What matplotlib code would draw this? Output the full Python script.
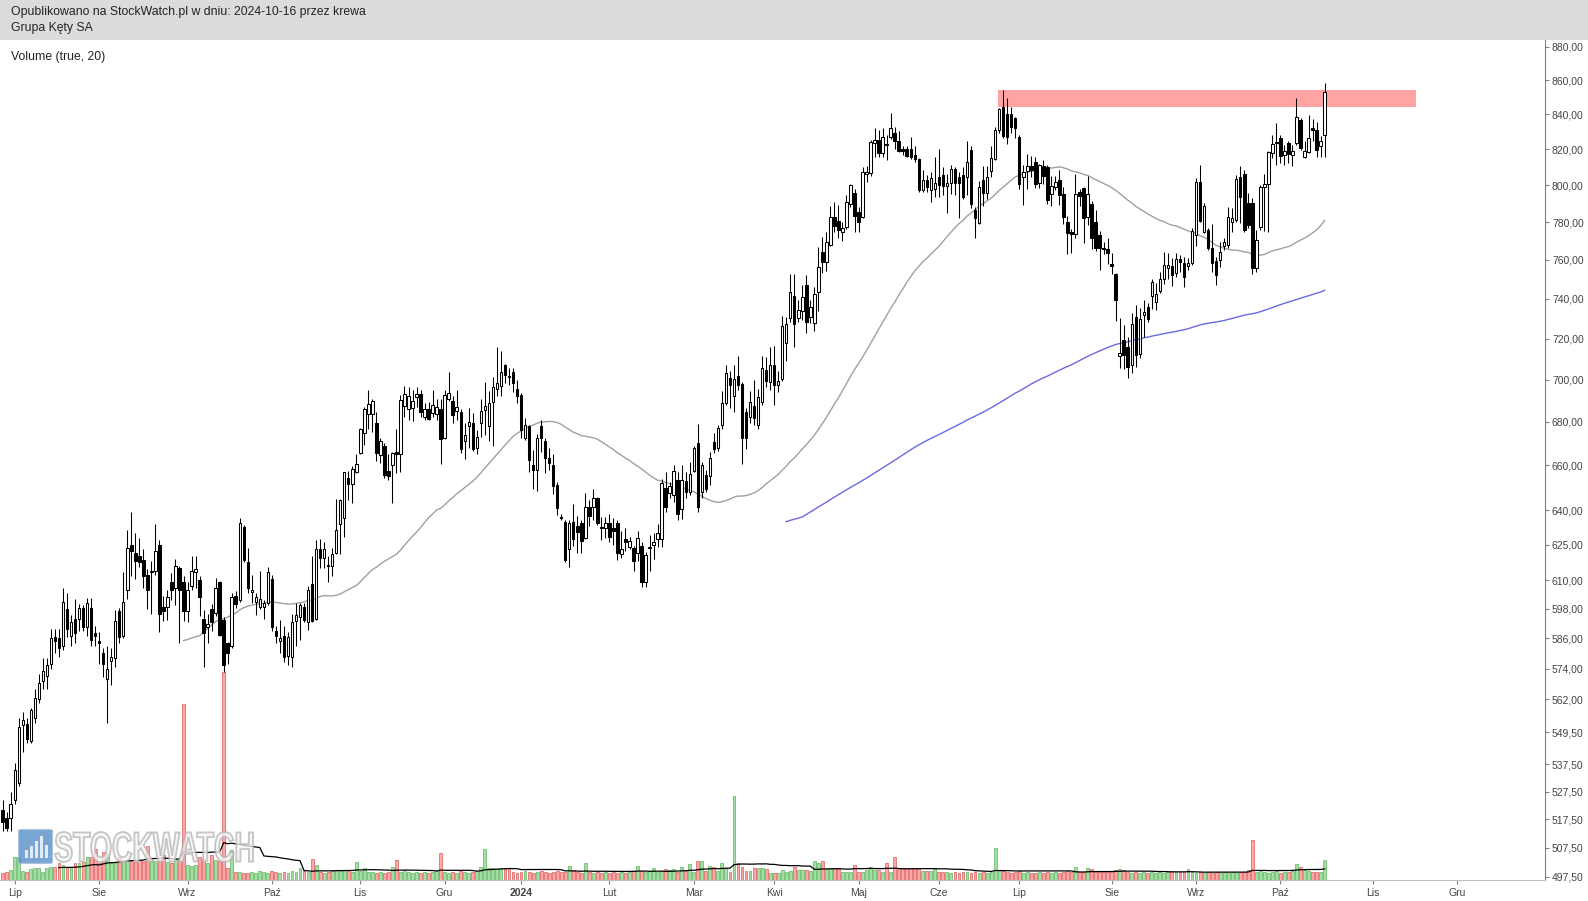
import numpy as np
import pandas as pd
import matplotlib
matplotlib.use("Agg")
import matplotlib.pyplot as plt
from matplotlib.patches import Rectangle, FancyBboxPatch, PathPatch
from matplotlib.textpath import TextPath
from matplotlib.font_manager import FontProperties
from matplotlib.transforms import Affine2D
import matplotlib.ticker as mticker

plt.rcParams['font.family'] = ['Liberation Sans', 'DejaVu Sans']

# daily candles, Grupa Kety SA, end of June 2023 -> 2024-10-16
opens = [
    521, 518, 518, 524.5, 530.5, 552, 552.5, 546, 555, 562,
    569, 571, 576, 586.5, 586, 583, 598, 587, 594, 594,
    598.5, 590.5, 598.5, 588, 585, 580, 570, 577, 578, 597,
    587, 606, 625, 621.5, 620, 618.5, 612, 613.5, 614, 625,
    599, 599, 609, 606.5, 615, 609, 597, 607.5, 613.5, 610,
    594, 590.5, 598, 596.5, 609, 593.5, 584, 583, 603.5, 601.5,
    632.5, 617.5, 605, 601, 599, 599, 600.5, 610.5, 589, 585,
    587, 579, 578.5, 593, 594.5, 599, 592.5, 608.5, 594, 623,
    619.5, 616.5, 616, 621.5, 634, 636.5, 654.5, 651.5, 657, 665.5,
    675, 683.5, 683.5, 679.5, 664.5, 669, 657.5, 660, 666, 665,
    687.5, 686, 686.5, 691.5, 693, 682.5, 686, 684, 683.5, 686,
    672.5, 691, 690, 685, 684.5, 671, 678, 679.5, 668, 679.5,
    685.5, 678, 689.5, 695.5, 697, 707, 702, 703.5, 695.5, 692.5,
    672.5, 678, 660, 658, 678, 671, 663.5, 660, 651, 637,
    635, 623, 635, 633, 634.5, 628, 641.5, 641.5, 645.5, 632.5,
    632, 634.5, 632, 634.5, 621, 627.5, 624, 623.5, 621.5, 624.5,
    609, 623.5, 625, 627.5, 627.5, 650, 647.5, 646.5, 653.5, 640.5,
    653, 648, 657.5, 670, 648, 655.5, 655, 670.5, 668, 678.5,
    689, 701, 692, 702, 698, 684.5, 682.5, 687.5, 678.5, 689.5,
    704.5, 699, 707, 697.5, 700.5, 718, 730.5, 741.5, 730.5, 734,
    747, 731, 728, 743.5, 764, 759, 768, 783, 780.5, 775,
    777.5, 790, 796, 785.5, 783, 806.5, 807, 823.5, 825.5, 818,
    823, 827, 829.5, 824.5, 820, 820.5, 820.5, 817, 814.5, 797.5,
    803, 797.5, 798, 804.5, 805.5, 799.5, 801.5, 809, 804.5, 805.5,
    804.5, 819.5, 786.5, 779.5, 803, 796, 808, 814.5, 831, 844,
    840, 840, 838, 827, 804.5, 808, 810.5, 813, 801.5, 810.5,
    810, 795, 799, 803, 795.5, 780, 774.5, 773.5, 796.5, 798.5,
    783, 790, 780, 773, 766.5, 766, 758, 752.5, 711.5, 719.5,
    716, 707, 731, 712.5, 732, 736, 741.5, 738.5, 744, 750,
    756, 757, 753, 760.5, 758.5, 757, 758.5, 773, 802, 775,
    776, 766.5, 759.5, 760, 767.5, 768, 780, 781, 804.5, 806,
    790.5, 790.5, 756, 777.5, 799, 801, 818, 823.5, 826.5, 817,
    823.5, 817, 823.5, 837, 815.5, 818.5, 832, 831, 822, 828,
]
highs = [
    524.5, 520, 527.5, 538, 555, 557, 555, 558.5, 566, 572,
    578, 578, 590, 590, 590, 606.5, 604.5, 595.5, 602, 600,
    599.5, 602.5, 602.5, 591, 588.5, 582, 583, 582, 597.5, 598.5,
    613.5, 631.5, 639, 630, 628, 623, 614.5, 618, 634, 627,
    603.5, 606, 613, 619, 616, 611.5, 609, 620, 620, 611.5,
    597.5, 596, 600, 611, 609.5, 594.5, 584.5, 604.5, 605.5, 636.5,
    633.5, 623.5, 612, 604.5, 614, 601.5, 615.5, 612, 591, 593.5,
    591, 588.5, 596, 600.5, 600.5, 600.5, 607.5, 620, 627, 627.5,
    626, 620, 623.5, 645, 645, 657, 657.5, 659.5, 665, 677,
    687, 695, 691, 684.5, 672.5, 670, 665, 666, 676.5, 692.5,
    697, 696.5, 695, 696.5, 695, 689, 689.5, 695, 691, 691,
    695, 703.5, 692, 695, 686, 679.5, 686.5, 684, 676, 691,
    699, 694.5, 701.5, 716, 714, 707.5, 705.5, 705.5, 700, 693.5,
    682, 678.5, 667, 674.5, 681, 672.5, 668, 665, 652.5, 638.5,
    635.5, 635.5, 642.5, 637.5, 635.5, 647.5, 644.5, 649.5, 646, 637,
    637, 638.5, 636.5, 635.5, 631, 632, 628.5, 624.5, 631, 626,
    622, 629, 630, 634, 654, 657, 652.5, 660, 657, 660,
    657, 661.5, 669, 679, 661.5, 658, 666, 675, 678.5, 694.5,
    707, 704, 707, 711.5, 699, 686.5, 694.5, 700, 695.5, 711.5,
    711, 716, 716.5, 704, 731.5, 731, 752.5, 752.5, 739.5, 747,
    752, 739.5, 746, 767, 772, 774.5, 788.5, 791, 789, 780,
    794.5, 801, 798, 788, 810, 810.5, 825.5, 832, 831, 832,
    828, 840.5, 832.5, 830.5, 822, 822, 827, 822, 815, 808.5,
    805.5, 807.5, 815.5, 820, 810, 806.5, 811.5, 810, 807.5, 810,
    824.5, 822, 788, 802.5, 810.5, 810.5, 822, 832.5, 843.5, 854,
    849.5, 844, 838.5, 828, 811.5, 817.5, 816.5, 815.5, 812, 814,
    811, 805, 805, 808.5, 799, 783.5, 776.5, 806.5, 798, 799,
    805, 791.5, 786.5, 775.5, 769.5, 771.5, 763.5, 753.5, 730.5, 727,
    721, 733, 737, 735.5, 739.5, 738, 750, 748, 754, 764,
    763.5, 761, 763.5, 762.5, 761.5, 761, 777, 804, 811, 790.5,
    777, 779, 761.5, 769.5, 771.5, 788, 787.5, 805.5, 810.5, 808.5,
    796, 793, 776, 800, 806.5, 819, 828, 835, 828, 822.5,
    825, 822.5, 849.5, 838, 825, 839.5, 837.5, 835.5, 827.5, 858.5,
]
lows = [
    513.5, 513.5, 513.5, 523, 529.5, 542, 545.5, 545.5, 553, 560.5,
    566, 566, 574, 580, 578.5, 581.5, 586.5, 583, 584, 589,
    589, 587, 583, 583, 576, 570.5, 553, 567.5, 574.5, 584,
    586, 602, 611.5, 610.5, 615.5, 606.5, 598, 596, 612, 588.5,
    593, 593.5, 601.5, 599.5, 584, 593, 592.5, 606, 606.5, 595,
    574.5, 584, 589, 595, 587, 572.5, 576, 582, 598.5, 601,
    617.5, 604.5, 600.5, 595.5, 598, 594, 599.5, 589, 584, 580,
    576.5, 575.5, 574.5, 583, 585.5, 592.5, 589.5, 592.5, 593.5, 615,
    615, 609, 611.5, 621, 621, 628.5, 644.5, 643, 656.5, 665,
    669.5, 676.5, 675.5, 662, 661, 654.5, 653.5, 643, 656.5, 657,
    682.5, 681, 680.5, 687, 682.5, 681, 681, 682.5, 681, 660.5,
    672, 690, 679.5, 681, 665.5, 663, 668, 666.5, 665, 673,
    674, 671, 669, 692, 692, 698.5, 697.5, 694, 689, 672.5,
    671.5, 657, 649.5, 648.5, 666, 656.5, 658, 647, 638, 635.5,
    617.5, 615.5, 624.5, 621.5, 621.5, 627.5, 633, 635.5, 633.5, 627,
    628, 626, 625, 618.5, 619.5, 622.5, 623, 614, 618, 607,
    607, 614, 619, 624, 624, 639, 645.5, 643.5, 635.5, 636,
    645.5, 646.5, 657, 639, 645.5, 648, 651, 665.5, 666.5, 676.5,
    688, 686.5, 684.5, 695, 660.5, 667.5, 679.5, 678.5, 676.5, 688,
    696.5, 695, 688, 694, 699.5, 709, 728.5, 716, 728.5, 729.5,
    723, 728, 724, 734, 753.5, 754.5, 767.5, 774.5, 771.5, 770,
    776.5, 788, 774.5, 774.5, 782.5, 802, 805, 815.5, 816, 816,
    814, 826, 820.5, 818.5, 817, 816, 814.5, 813, 796.5, 796.5,
    796.5, 791, 793.5, 793.5, 794.5, 785, 795.5, 794.5, 782, 792.5,
    794.5, 787.5, 771.5, 779, 788.5, 792.5, 804.5, 814, 829.5, 826.5,
    823, 829.5, 826.5, 798, 789, 798, 804.5, 798.5, 798.5, 800.5,
    790, 788.5, 797.5, 789.5, 779, 763, 763.5, 771.5, 788.5, 769,
    778.5, 766, 764.5, 755, 763, 758, 752.5, 729, 705.5, 705,
    701, 703, 706, 710.5, 721, 728.5, 735, 734.5, 743, 747.5,
    750, 746.5, 751, 754, 746, 755, 757.5, 767.5, 780, 774,
    765.5, 754, 747, 756.5, 765.5, 766.5, 775, 780, 779.5, 775,
    777, 752.5, 754, 776, 775.5, 775, 815, 811.5, 812.5, 811.5,
    812.5, 810.5, 822.5, 819.5, 815, 818, 824.5, 815.5, 816, 815.5,
]
closes = [
    516.5, 514.5, 523, 535.5, 551.5, 554, 547, 558, 562.5, 568.5,
    573, 575.5, 586, 585, 582, 601, 590, 592.5, 588, 598.5,
    590.5, 600.5, 585.5, 587, 584, 576, 574, 578.5, 593, 586.5,
    601, 623.5, 622.5, 618, 617.5, 611.5, 606, 614, 622.5, 596,
    597, 603, 606, 616, 606, 597, 606, 614, 614.5, 603,
    588, 592, 592.5, 606.5, 587.5, 575.5, 580, 603, 600, 634.5,
    618.5, 606.5, 606, 603, 602, 600.5, 613.5, 590.5, 587, 586,
    578.5, 586.5, 592.5, 595.5, 599.5, 593.5, 606, 593, 623, 619.5,
    623, 616, 621, 631.5, 644.5, 657, 651.5, 658.5, 660.5, 676.5,
    686, 688.5, 690, 665.5, 671, 655.5, 655, 665.5, 665, 690.5,
    693, 692, 690, 693, 684.5, 686, 681.5, 688, 687, 672,
    692.5, 693.5, 683, 687, 667.5, 674, 680, 667.5, 673, 685,
    687.5, 689, 696.5, 698.5, 703.5, 702.5, 701.5, 698.5, 692, 676,
    678.5, 662.5, 658, 672.5, 672.5, 663.5, 661, 650.5, 641, 636.5,
    618.5, 634.5, 627.5, 630.5, 626.5, 641.5, 637.5, 645.5, 634.5, 632,
    634.5, 628.5, 631, 621.5, 623, 626, 626.5, 618, 628, 609,
    620.5, 624, 626, 630, 652, 641.5, 650.5, 657.5, 638.5, 653.5,
    648, 656, 668, 641.5, 660, 649.5, 663.5, 667.5, 677, 689,
    703, 697.5, 700.5, 697.5, 672.5, 672.5, 689.5, 682, 691.5, 705.5,
    699.5, 707, 697.5, 699.5, 726.5, 727.5, 743.5, 727.5, 734.5, 741,
    728.5, 736, 742.5, 756.5, 759, 769.5, 783, 778, 776, 777,
    791, 800, 783.5, 780, 807.5, 807.5, 824, 825.5, 818, 827,
    822.5, 832, 824.5, 819, 819, 816.5, 816, 814.5, 797.5, 803,
    799, 804, 801.5, 800, 799.5, 801.5, 809, 801.5, 801.5, 793.5,
    813, 790, 782, 799, 796, 804.5, 815, 831, 843, 827.5,
    827, 832.5, 832, 800.5, 807.5, 810.5, 808.5, 801, 811, 805,
    792, 799.5, 802, 794.5, 783, 774, 773.5, 795, 794, 782.5,
    795, 771.5, 766.5, 766.5, 766, 763.5, 757, 739.5, 713, 712,
    706, 727.5, 712, 730, 733.5, 730, 748.5, 742.5, 750, 757.5,
    757.5, 752, 760.5, 759, 751, 758.5, 775.5, 802, 780.5, 788.5,
    766.5, 758.5, 752, 764, 769.5, 783, 782, 803.5, 793.5, 776,
    778.5, 756, 770.5, 799, 801, 818.5, 823, 824, 816.5, 819,
    817.5, 819, 838.5, 821, 819, 826.5, 831, 819.5, 824.5, 853,
]
# volume (thousand shares)
volumes = [
    7, 8, 10, 23, 23, 9, 8, 11, 12, 12,
    8, 12, 13, 13, 17, 15, 13, 13, 17, 17,
    18, 23, 23, 31, 17, 28, 27, 17, 17, 23,
    19, 20, 19, 18, 20, 19, 34, 20, 19, 20,
    25, 18, 17, 21, 20, 176, 15, 14, 15, 23,
    21, 17, 25, 20, 19, 208, 12, 30, 8, 8,
    7, 7, 8, 7, 9, 8, 7, 9, 8, 7,
    8, 7, 9, 8, 12, 9, 8, 21, 15, 8,
    7, 8, 9, 10, 9, 10, 9, 8, 18, 9,
    12, 8, 8, 7, 8, 7, 8, 13, 20, 8,
    10, 8, 7, 8, 7, 8, 7, 8, 9, 27,
    8, 7, 8, 7, 9, 8, 7, 8, 9, 13,
    31, 12, 12, 11, 12, 12, 11, 8, 7, 8,
    9, 8, 7, 8, 9, 8, 7, 8, 9, 8,
    8, 14, 10, 8, 7, 17, 8, 7, 8, 7,
    8, 7, 8, 7, 8, 7, 8, 9, 14, 9,
    8, 9, 12, 8, 9, 11, 10, 11, 8, 13,
    9, 16, 8, 19, 19, 9, 14, 13, 9, 17,
    12, 8, 84, 17, 13, 9, 9, 12, 12, 12,
    11, 7, 7, 7, 10, 8, 9, 13, 10, 10,
    10, 9, 19, 17, 19, 11, 12, 12, 12, 8,
    8, 8, 15, 8, 8, 10, 13, 10, 10, 8,
    17, 8, 23, 11, 12, 12, 12, 12, 12, 9,
    9, 9, 12, 8, 8, 8, 7, 8, 7, 8,
    8, 7, 8, 7, 8, 7, 8, 32, 10, 9,
    8, 7, 8, 9, 7, 8, 7, 7, 8, 7,
    8, 7, 8, 7, 8, 9, 8, 13, 8, 8,
    12, 11, 8, 8, 8, 8, 8, 10, 11, 10,
    8, 7, 8, 7, 8, 7, 8, 7, 8, 7,
    8, 9, 8, 8, 8, 11, 8, 7, 8, 7,
    8, 7, 8, 7, 8, 7, 8, 7, 8, 8,
    10, 40, 8, 9, 8, 7, 8, 9, 7, 8,
    8, 9, 16, 13, 10, 9, 8, 8, 8, 20,
]

month_pos = [3, 24, 46, 67, 89, 110, 129, 151, 172, 192, 213, 233, 253, 276, 297, 318, 341, 362]
month_labels = ['Lip', 'Sie', 'Wrz', 'Paź', 'Lis', 'Gru', '2024', 'Lut', 'Mar', 'Kwi',
                'Maj', 'Cze', 'Lip', 'Sie', 'Wrz', 'Paź', 'Lis', 'Gru']
price_ticks = [880, 860, 840, 820, 800, 780, 760, 740, 720, 700, 680, 660, 640, 625,
               610, 598, 586, 574, 562, 549.5, 537.5, 527.5, 517.5, 507.5, 497.5]
# resistance zone drawn on the chart
zone_x = (247.8, 351.7)
zone_y = (844, 854.2)

o = np.array(opens); h = np.array(highs); l = np.array(lows); c = np.array(closes)
vol = np.array(volumes, dtype=float)
x = np.arange(len(c))
up = c >= o

ma50 = pd.Series(c).rolling(50, min_periods=46).mean()
ma200 = pd.Series(c).rolling(200, min_periods=196).mean()
vma = pd.Series(vol).rolling(20, min_periods=15).mean()

W, H = 1588, 901
fig = plt.figure(figsize=(W / 100, H / 100), dpi=100)
fig.patches.append(Rectangle((0, 1 - 39.5 / H), 1, 39.5 / H, transform=fig.transFigure,
                             facecolor='#dcdcdc', edgecolor='none'))
fig.text(11 / W, 1 - 12.5 / H, 'Opublikowano na StockWatch.pl w dniu: 2024-10-16 przez krewa',
         fontsize=8.8, color='#222222', va='center')
fig.text(11 / W, 1 - 27.5 / H, 'Grupa Kęty SA', fontsize=8.8, color='#222222', va='center')

rect = [0, (H - 880) / H, 1545 / W, 840 / H]
ax_v = fig.add_axes(rect)
ax = fig.add_axes(rect, sharex=ax_v)
ax.patch.set_alpha(0)

# volume panel
ax_v.bar(x, vol, width=0.72, color=np.where(up, '#a6dca6', '#ffa6a6'),
         edgecolor=np.where(up, '#6fbf6f', '#e07070'), linewidth=0.6)
ax_v.plot(x, vma, color='black', lw=0.9)
ax_v.set_ylim(0, 840)
ax_v.axis('off')

# price
ax.set_yscale('log')
ax.add_patch(Rectangle((zone_x[0], zone_y[0]), zone_x[1] - zone_x[0], zone_y[1] - zone_y[0],
                       facecolor='#ffa3a3', edgecolor='none', zorder=1))
ax.plot(x, ma50, color='#a0a0a0', lw=1.0, zorder=2)
ax.plot(x, ma200, color='#6a6ae0', lw=1.0, zorder=2)
ax.vlines(x, np.minimum(l, np.minimum(o, c)), np.maximum(h, np.maximum(o, c)),
          color='black', lw=0.75, zorder=3)
body_lo = np.minimum(o, c)
body_hi = np.maximum(o, c)
ax.bar(x, body_hi - body_lo, bottom=body_lo, width=0.62,
       color=np.where(up, 'white', 'black'), edgecolor='black', linewidth=0.75, zorder=4)

ax.set_xlim(-0.672, 383.85)
ax.set_ylim(496.4, 884.0)
ax.yaxis.tick_right()
ax.yaxis.set_major_locator(mticker.FixedLocator(price_ticks))
ax.yaxis.set_minor_locator(mticker.NullLocator())
ax.yaxis.set_major_formatter(mticker.FuncFormatter(lambda v, p: f"{v:.2f}".replace('.', ',')))
ax.set_xticks(month_pos)
ax.set_xticklabels(month_labels)
for t in ax.get_xticklabels():
    if t.get_text() == '2024':
        t.set_fontweight('bold')
ax.tick_params(axis='y', direction='out', length=3, width=0.8, color='#808080',
               labelsize=7.5, labelcolor='#444444', pad=2)
ax.tick_params(axis='x', direction='out', length=3, width=0.8, color='#808080',
               labelsize=7.5, labelcolor='#444444', pad=3)
for s in ['left', 'top']:
    ax.spines[s].set_visible(False)
ax.spines['right'].set_color('#808080')
ax.spines['bottom'].set_color('#c0c0c0')

fig.text(11 / W, 1 - 57 / H, 'Volume (true, 20)', fontsize=8.8, color='#222222', va='center')

# StockWatch watermark (pixel coordinates, origin bottom-left)
fig.patches.append(FancyBboxPatch((21 / W, 1 - 862 / H), 29 / W, 31 / H,
                                  boxstyle='round,pad=0.0015', transform=fig.transFigure,
                                  facecolor='#3f7fbf', edgecolor='#9ab8d8', alpha=0.7, zorder=5))
for i, bh in enumerate([8, 12, 17, 22, 13]):
    fig.patches.append(Rectangle(((25 + i * 5) / W, 1 - 858 / H), 3 / W, bh / H,
                                 transform=fig.transFigure, facecolor='white',
                                 edgecolor='none', alpha=0.8, zorder=6))
tp = TextPath((0, 0), 'STOCKWATCH', size=40,
              prop=FontProperties(family='Liberation Sans', weight='bold'))
ext = tp.get_extents()
wm_tr = (Affine2D().translate(-ext.x0, -ext.y0)
         .scale(198 / ext.width, 30 / ext.height).translate(55, H - 862))
fig.patches.append(PathPatch(tp, transform=wm_tr, facecolor='#f4f4f4', edgecolor='#b4b4b4',
                             lw=1.3, alpha=0.75, zorder=6))

fig.savefig('out.png', dpi=100)
